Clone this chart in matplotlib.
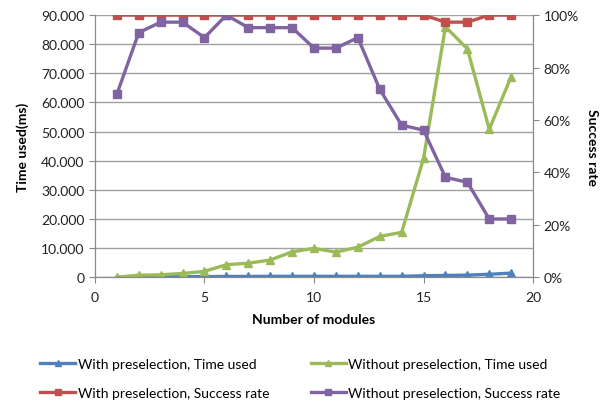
import matplotlib
matplotlib.use('Agg')
import matplotlib.pyplot as plt
from matplotlib.ticker import FuncFormatter

plt.rcParams['font.family'] = ['Lato', 'DejaVu Sans']

# data
x_all = list(range(1, 20))
x_with = list(range(2, 20))
time_with = [200, 200, 200, 200, 250, 250, 300, 300, 300, 300, 300, 300, 300,
             500, 600, 700, 1000, 1400]
time_without = [0, 700, 800, 1300, 2000, 4300, 4800, 5900, 8700, 9900, 8600,
                10300, 14000, 15400, 40800, 86000, 78400, 50800, 68900]
rate_with = [100, 100, 100, 100, 100, 100, 100, 100, 100, 100, 100, 100, 100,
             100, 100, 97.3, 97.3, 100, 100]
rate_without = [69.8, 93.3, 97.3, 97.3, 91.4, 100, 95.2, 95.2, 95.2, 87.4,
                87.4, 91.4, 71.7, 58.0, 56.1, 38.1, 36.2, 22.2, 22.2]

blue = '#4F81BD'
red = '#C0504D'
green = '#9BBB59'
purple = '#8064A2'

fig = plt.figure(figsize=(6.01, 4.02), dpi=100)
ax = fig.add_axes([0.158, 0.308, 0.729, 0.652])
ax2 = ax.twinx()

l1, = ax.plot(x_with, time_with, color=blue, lw=2.4, marker='^', ms=6,
              label='With preselection, Time used')
l2, = ax.plot(x_all, time_without, color=green, lw=2.4, marker='^', ms=6,
              label='Without preselection, Time used')
l3, = ax2.plot(x_all, rate_with, color=red, lw=2.4, marker='s', ms=6,
               label='With preselection, Success rate')
l4, = ax2.plot(x_all, rate_without, color=purple, lw=2.4, marker='s', ms=6,
               label='Without preselection, Success rate')

ax.set_xlim(0, 20)
ax.set_ylim(0, 90000)
ax2.set_ylim(0, 100)
ax.set_xticks([0, 5, 10, 15, 20])
ax.set_yticks(range(0, 90001, 10000))
ax2.set_yticks(range(0, 101, 20))
ax.yaxis.set_major_formatter(FuncFormatter(lambda v, p: f'{int(v):,}'.replace(',', '.')))
ax2.yaxis.set_major_formatter(FuncFormatter(lambda v, p: f'{int(v)}%'))
ax.grid(axis='y', color='#A0A0A0', lw=1)
ax.set_axisbelow(True)

for a in (ax, ax2):
    a.spines['top'].set_visible(False)
    for s in ('left', 'right', 'bottom'):
        a.spines[s].set_color('#888888')
    a.tick_params(labelsize=10, colors='#222222', length=4, color='#888888')
ax.tick_params(axis='x', pad=6)

ax.set_xlabel('Number of modules', fontsize=10, fontweight='bold', labelpad=7)
ax.set_ylabel('Time used(ms)', fontsize=10, fontweight='bold', labelpad=9)
ax2.set_ylabel('Success rate', fontsize=10, fontweight='bold', rotation=270,
               labelpad=14)

fig.legend(handles=[l1, l3, l2, l4], loc='lower center', ncol=2,
           bbox_to_anchor=(0.5, -0.025), frameon=False, fontsize=10,
           markerscale=0.8, handlelength=2.5, columnspacing=3,
           handletextpad=0.2, labelspacing=1.2)

fig.savefig('out.png', dpi=100)
